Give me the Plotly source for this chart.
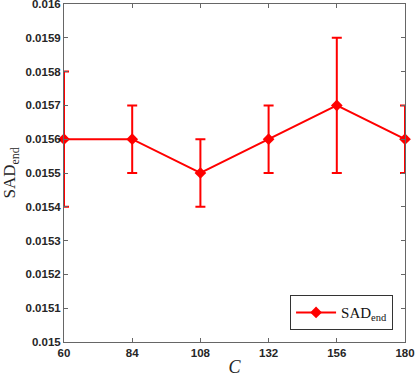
from plotly.graph_objects import Scatter, Figure

# donnees
c_vals = [60, 84, 108, 132, 156, 180]
sad_end = [0.0156, 0.0156, 0.0155, 0.0156, 0.0157, 0.0156]
sad_err = [0.0002, 0.0001, 0.0001, 0.0001, 0.0002, 0.0001]
y_ticks = [0.015 + i * 0.0001 for i in range(11)]
y_labels = ["0.015", "0.0151", "0.0152", "0.0153", "0.0154", "0.0155",
            "0.0156", "0.0157", "0.0158", "0.0159", "0.016"]

fig = Figure()
fig.add_trace(Scatter(
    x=c_vals, y=sad_end, mode="lines+markers", name="SAD<sub>end</sub>",
    line=dict(color="#ff0000", width=2),
    marker=dict(symbol="diamond", size=9, color="#ff0000"),
    error_y=dict(type="data", array=sad_err, visible=True,
                 color="#ff0000", thickness=2, width=5),
    cliponaxis=False,
))

tick_font = dict(family="Liberation Sans", size=11.5, color="#262626", weight="bold")
axis_style = dict(
    showline=True, linecolor="#666666", linewidth=1, mirror="allticks",
    ticks="inside", ticklen=4, tickcolor="#666666", showgrid=False,
    zeroline=False, tickfont=tick_font, ticklabeloverflow="allow",
    automargin=False,
)

fig.update_layout(
    width=415, height=380,
    margin=dict(l=64, r=10, t=4, b=38),
    plot_bgcolor="white", paper_bgcolor="white",
    showlegend=True,
    legend=dict(x=0.965, y=0.035, xanchor="right", yanchor="bottom",
                bordercolor="#333333", borderwidth=1, bgcolor="white",
                tracegroupgap=0, itemwidth=40,
                font=dict(family="Liberation Serif", size=15, color="#111111")),
    xaxis=dict(range=[60, 180], tickvals=c_vals,
               title=dict(text="<i>C</i>", standoff=2,
                          font=dict(family="Liberation Serif", size=18, color="#262626")),
               **axis_style),
    yaxis=dict(range=[0.015, 0.016], tickvals=y_ticks, ticktext=y_labels,
               title=dict(text="SAD<sub>end</sub>", standoff=6,
                          font=dict(family="Liberation Serif", size=17, color="#262626")),
               **axis_style),
)

fig.write_html("out.html", config={"displayModeBar": False},
               post_script="document.body.style.margin='0';")
